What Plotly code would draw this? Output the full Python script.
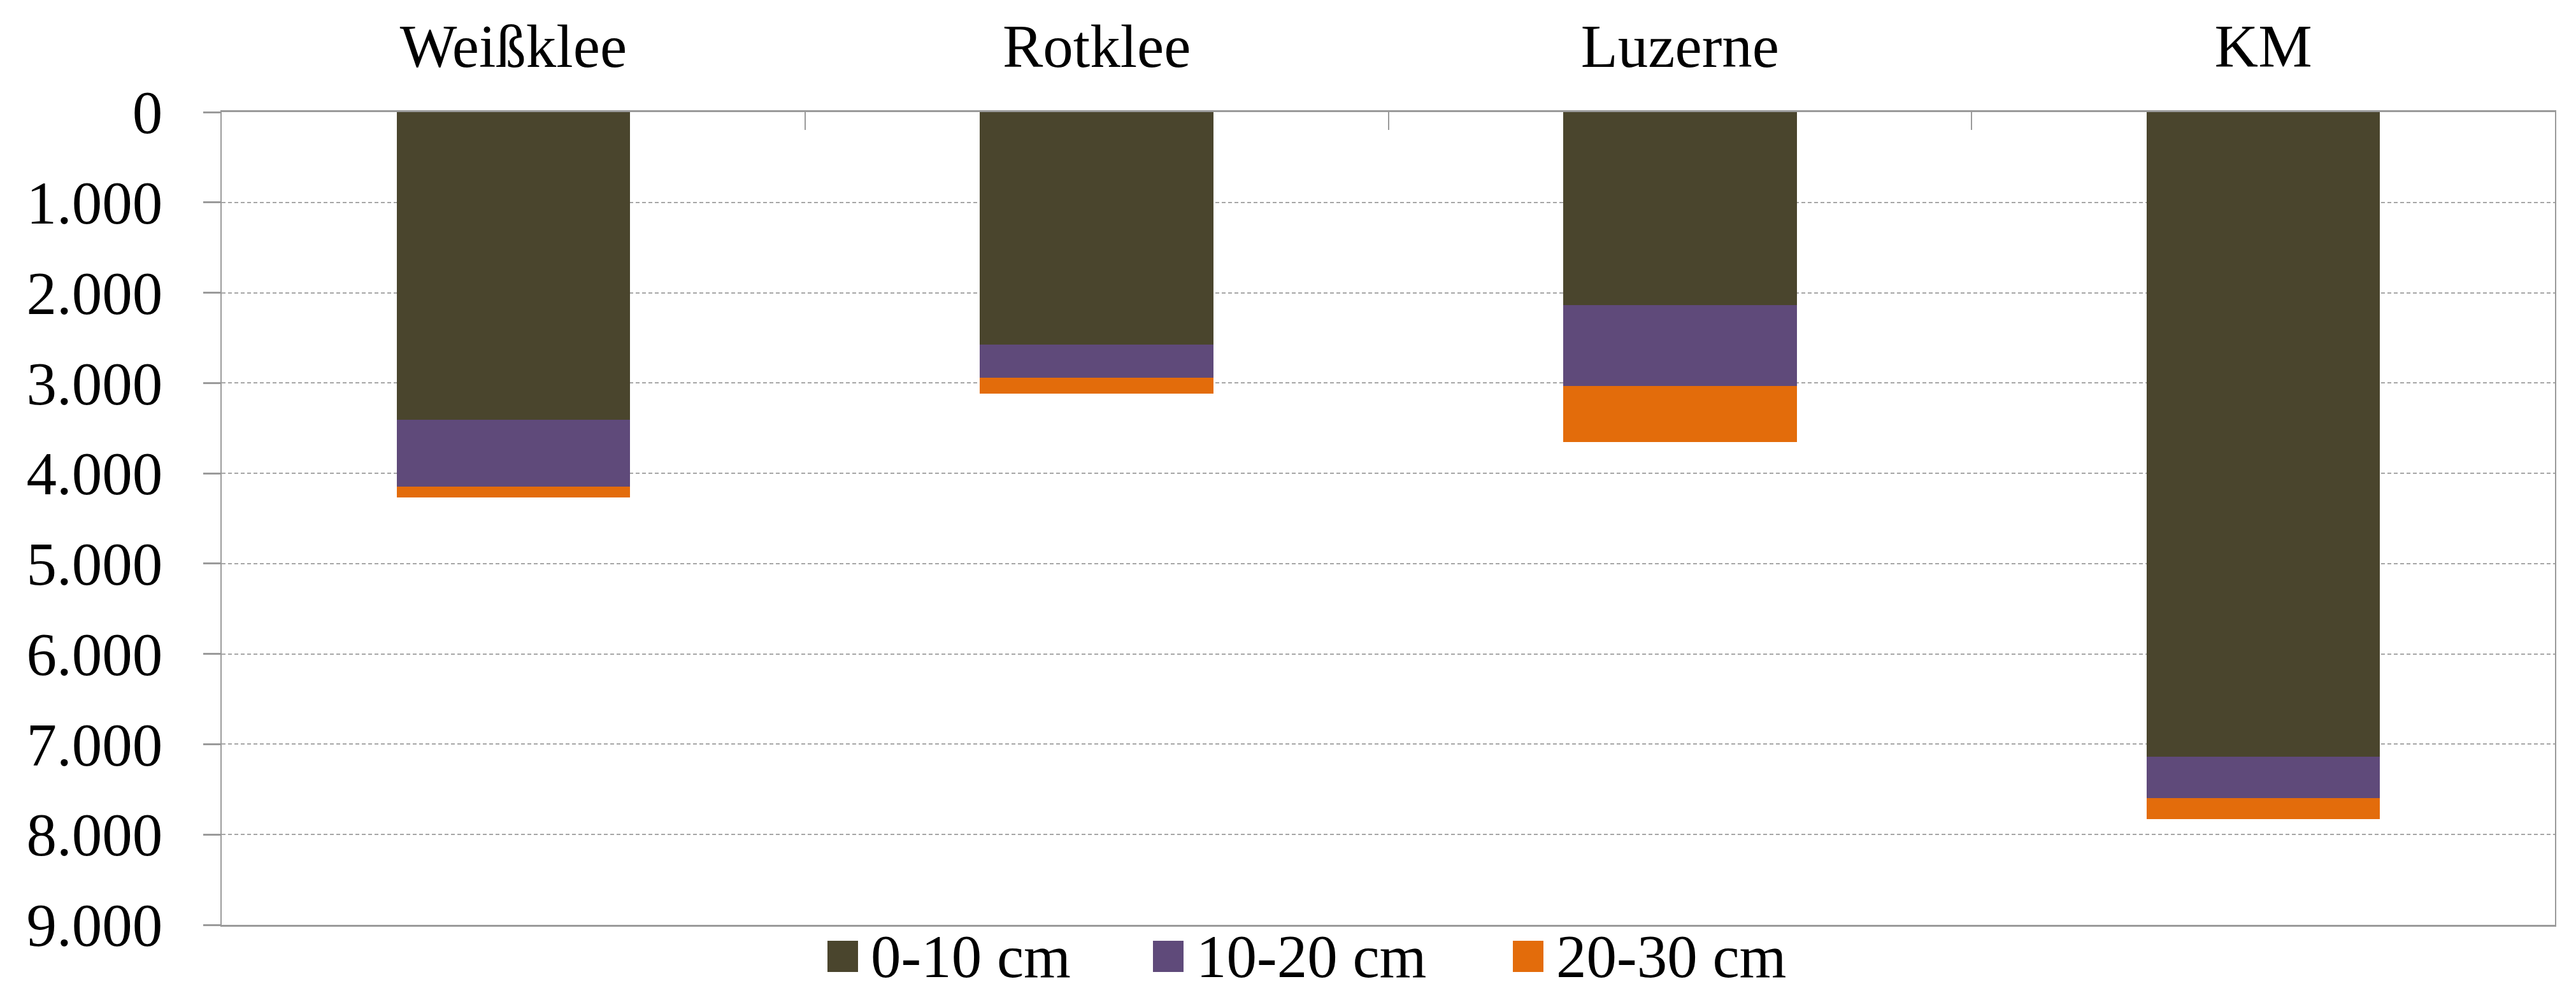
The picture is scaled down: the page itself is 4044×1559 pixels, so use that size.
import plotly.graph_objects as go

# ---------------- data ----------------
categories = ["Weißklee", "Rotklee", "Luzerne", "KM"]
series_names = ["0-10 cm", "10-20 cm", "20-30 cm"]
depth_0_10 = [3410, 2576, 2134, 7141]
depth_10_20 = [740, 367, 901, 452]
depth_20_30 = [115, 171, 622, 239]
y_tick_values = [0, 1000, 2000, 3000, 4000, 5000, 6000, 7000, 8000, 9000]
y_tick_labels = ["0", "1.000", "2.000", "3.000", "4.000", "5.000",
                 "6.000", "7.000", "8.000", "9.000"]

# ---------------- style ----------------
W, H = 4044, 1559
ML, MR, MT, MB = 340, 41, 168, 115
colors = ["#4A452D", "#5F4A7A", "#E36C0B"]
FONT = "'Liberation Serif', 'Times New Roman', 'DejaVu Serif', serif"
FS = 95
LINE = "#9A9A9A"
GRID = "#A6A6A6"

series_values = [depth_0_10, depth_10_20, depth_20_30]

fig = go.Figure()
for name, vals, col in zip(series_names, series_values, colors):
    fig.add_trace(go.Bar(
        x=categories, y=vals, name=name,
        marker=dict(color=col, line=dict(width=0)),
        showlegend=False,
    ))

# manual legend (large square swatches like the original)
plot_w = W - ML - MR
plot_h = H - MT - MB
legend_x_px = [1291, 1802, 2367]   # swatch left edges, pixels
swatch = 48
leg_top_px, leg_bot_px = 1469, 1518

def xp(px):
    return (px - ML) / plot_w

def yp(py):
    return (H - MB - py) / plot_h

shapes = []
annotations = []
for name, col, lx in zip(series_names, colors, legend_x_px):
    shapes.append(dict(type="rect", xref="paper", yref="paper",
                       x0=xp(lx), x1=xp(lx + swatch),
                       y0=yp(leg_bot_px), y1=yp(leg_top_px),
                       fillcolor=col, line=dict(width=0)))
    annotations.append(dict(text=name, xref="paper", yref="paper",
                            x=xp(lx + swatch + 18), y=yp((leg_top_px + leg_bot_px) / 2),
                            xanchor="left", yanchor="middle", showarrow=False,
                            font=dict(family=FONT, size=FS, color="black")))

fig.update_layout(
    width=W, height=H,
    margin=dict(l=ML, r=MR, t=MT, b=MB),
    barmode="stack", bargap=0.6,
    plot_bgcolor="white", paper_bgcolor="white",
    font=dict(family=FONT, size=FS, color="black"),
    shapes=shapes, annotations=annotations,
    showlegend=False,
)
fig.update_xaxes(
    type="category", side="top",
    ticks="inside", tickson="boundaries", ticklen=28, tickwidth=1.5, tickcolor=LINE,
    showline=True, linecolor=LINE, linewidth=3, mirror=True,
    showgrid=False, tickfont=dict(family=FONT, size=FS, color="black"),
    ticklabelstandoff=30,
)
fig.update_yaxes(
    range=[9000, 0],
    tickmode="array", tickvals=y_tick_values, ticktext=y_tick_labels,
    ticks="outside", ticklen=27, tickwidth=2.5, tickcolor=LINE,
    showline=True, linecolor=LINE, linewidth=1.5, mirror=True,
    showgrid=True, gridcolor=GRID, gridwidth=2, griddash="6px,4px",
    zeroline=False,
    tickfont=dict(family=FONT, size=FS, color="black"),
    ticklabelstandoff=45,
)

fig.write_html("out.html")
